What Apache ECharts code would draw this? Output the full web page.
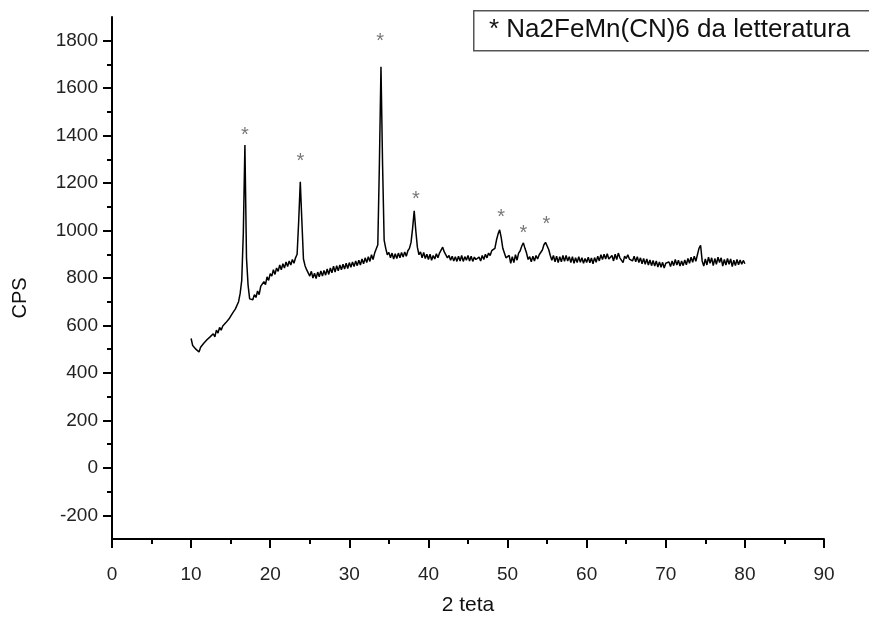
<!DOCTYPE html>
<html>
<head>
<meta charset="utf-8">
<script src="https://cdn.jsdelivr.net/npm/echarts@6/dist/echarts.min.js"></script>
<style>
html,body{margin:0;padding:0;background:#fff;}
#chart{width:869px;height:621px;}
</style>
</head>
<body>
<div id="chart"></div>
<script>
// 2-theta scan: start angle and step (degrees), CPS values
const startAngle = 10;
const stepAngle = 0.2;
const cps = [
  545,515,518,500,502,488,508,505,525,520,
  540,532,552,545,565,552,580,568,592,580,
  598,600,612,605,628,632,650,648,670,675,
  700,735,790,990,1360,885,770,712,720,708,
  730,718,745,730,765,770,785,772,805,790,
  818,808,835,815,842,828,855,835,860,842,
  868,848,872,855,878,862,885,900,1040,1205,
  1040,880,852,835,830,808,828,800,820,798,
  825,805,830,808,832,812,838,815,842,822,
  850,825,852,830,855,835,858,838,862,840,
  865,845,868,848,872,852,875,855,880,860,
  885,865,890,870,898,878,905,900,940,1280,
  1690,1280,960,925,898,908,885,905,880,902,
  882,905,885,908,888,910,892,915,925,950,
  1010,1083,1000,930,898,910,885,908,882,900,
  878,900,875,895,880,902,885,905,912,930,
  910,908,885,895,875,892,872,890,870,892,
  872,895,870,890,875,895,872,892,870,888,
  878,870,888,872,895,878,900,885,905,895,
  915,908,925,960,985,1003,970,925,905,885,
  880,895,862,890,865,898,875,905,915,935,
  948,925,905,878,890,868,892,872,895,880,
  898,900,918,940,950,948,920,895,875,895,
  868,892,865,890,868,895,870,895,872,890,
  865,890,862,885,865,890,866,885,862,882,
  865,888,864,884,860,886,866,892,872,898,
  878,900,880,902,880,885,895,872,900,878,
  905,885,888,865,892,882,898,880,885,872,
  892,868,890,865,885,860,882,858,880,855,
  876,852,874,850,872,846,868,845,866,842,
  862,855,868,848,872,852,878,855,875,850,
  872,852,876,856,882,862,888,866,892,870,
  898,925,938,872,850,880,855,888,862,885,
  852,882,858,888,865,885,850,878,855,882,
  858,880,848,875,852,878,856,876,858,874,
  860
];
// peak markers (asterisks): angle and height where the mark sits
const starAngles = [16.8, 23.8, 33.9, 38.4, 49.2, 52.0, 54.9];
const starCps    = [1418, 1308, 1814, 1148, 1072, 1004, 1042];

const yMajor = [-200,0,200,400,600,800,1000,1200,1400,1600,1800];
const yMinor = [-100,100,300,500,700,900,1100,1300,1500,1700];
const legendText = '* Na2FeMn(CN)6 da letteratura';
const xTitle = '2 teta';
const yTitle = 'CPS';

const lineData = cps.map((v, i) => [+(startAngle + stepAngle * i).toFixed(1), v]);
const starData = starAngles.map((a, i) => [a, starCps[i]]);

const FONT = '"Liberation Sans", Arial, sans-serif';
const chart = echarts.init(document.getElementById('chart'), null, {renderer: 'canvas'});
chart.setOption({
  backgroundColor: '#ffffff',
  animation: false,
  grid: {left: 112, right: 45, top: 17, bottom: 81, containLabel: false},
  xAxis: {
    type: 'value', min: 0, max: 90, interval: 10,
    name: xTitle, nameLocation: 'middle', nameGap: 56,
    nameTextStyle: {fontFamily: FONT, fontSize: 21, color: '#111'},
    axisLine: {show: true, onZero: false, lineStyle: {color: '#000', width: 2}},
    axisTick: {show: true, inside: false, length: 9, lineStyle: {color: '#000', width: 2}},
    minorTick: {show: true, splitNumber: 2, length: 5, lineStyle: {color: '#000', width: 2}},
    axisLabel: {fontFamily: FONT, fontSize: 19, color: '#222', margin: 26, formatter: v => String(v)},
    splitLine: {show: false}
  },
  yAxis: [{
    type: 'value', min: -300, max: 1900,
    axisLine: {show: true, onZero: false, lineStyle: {color: '#000', width: 2}},
    axisTick: {show: true, inside: false, length: 9, customValues: yMajor, lineStyle: {color: '#000', width: 2}},
    axisLabel: {fontFamily: FONT, fontSize: 19, color: '#222', margin: 14, customValues: yMajor, formatter: v => String(v)},
    splitLine: {show: false}
  }, {
    type: 'value', min: -300, max: 1900, position: 'left',
    axisLine: {show: false},
    axisTick: {show: true, inside: false, length: 5, customValues: yMinor, lineStyle: {color: '#000', width: 2}},
    axisLabel: {show: false},
    splitLine: {show: false}
  }],
  series: [{
    type: 'line', data: lineData, showSymbol: false, symbol: 'none',
    lineStyle: {color: '#000', width: 1.5}, silent: true
  }, {
    type: 'scatter', data: starData, symbolSize: 1,
    itemStyle: {color: 'rgba(0,0,0,0)'},
    label: {show: true, position: 'inside', offset: [0, 4], formatter: '*', fontFamily: FONT, fontSize: 20, color: '#555'},
    silent: true
  }],
  graphic: [{
    type: 'rect', left: 473, top: 10,
    shape: {width: 410, height: 40},
    style: {fill: '#fff', stroke: '#555', lineWidth: 1.5}
  }, {
    type: 'text', left: 489, top: 17,
    style: {text: legendText, font: '26px "Liberation Sans", Arial, sans-serif', fill: '#111'}
  }, {
    type: 'text', x: 20, y: 298, rotation: Math.PI / 2,
    style: {text: yTitle, font: '20px "Liberation Sans", Arial, sans-serif', fill: '#111', align: 'center', verticalAlign: 'middle'}
  }]
});
</script>
</body>
</html>
